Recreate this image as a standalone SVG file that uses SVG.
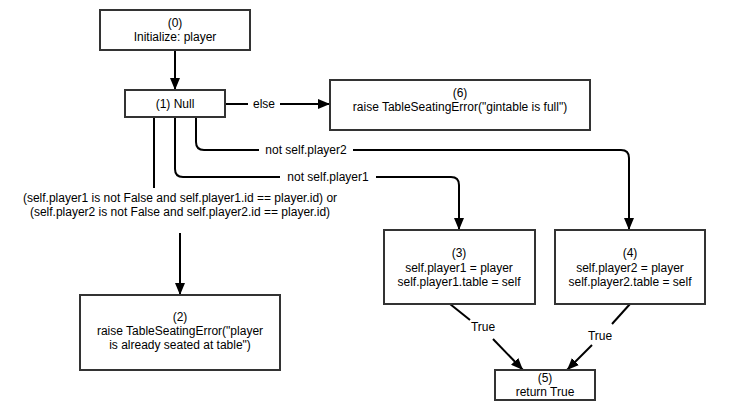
<svg xmlns="http://www.w3.org/2000/svg" width="731" height="420" viewBox="0 0 731 420">
<defs>
<marker id="ah" viewBox="0 0 12 10" refX="12" refY="5" markerWidth="12" markerHeight="10" markerUnits="userSpaceOnUse" orient="auto">
<path d="M0,0 L12,5 L0,10 Z" fill="#000"/>
</marker>
<style>
.box{fill:#fff;stroke:#333;stroke-width:2}
.t{font-family:"Liberation Sans",Arial,sans-serif;font-size:12px;fill:#000;text-anchor:middle}
.c{fill:none;stroke:#000;stroke-width:2}
.a{fill:none;stroke:#000;stroke-width:2;marker-end:url(#ah)}
</style>
</defs>
<rect width="731" height="420" fill="#fff"/>
<g id="connectors">
<path class="a" d="M175,50 V90"/>
<path class="c" d="M225,104 H248"/>
<text class="t" x="264" y="108">else</text>
<path class="a" d="M280,104 H330"/>
<path class="c" d="M196,117 V142 Q196,150 204,150 H259"/>
<text class="t" x="306" y="154">not self.player2</text>
<path class="a" d="M353,150 H621 Q629,150 629,158 V230"/>
<path class="c" d="M175,117 V169 Q175,177 183,177 H280"/>
<text class="t" x="328" y="181">not self.player1</text>
<path class="a" d="M376,177 H451 Q459,177 459,185 V230"/>
<path class="c" d="M154,117 V188"/>
<text class="t" x="180" y="202">(self.player1 is not False and self.player1.id == player.id) or</text>
<text class="t" x="180" y="216">(self.player2 is not False and self.player2.id == player.id)</text>
<path class="a" d="M180,233 V295"/>
<path class="c" d="M450,304 L470,320"/>
<text class="t" x="483" y="331">True</text>
<path class="a" d="M493,339 L523,370"/>
<path class="c" d="M630,304 L612,324"/>
<text class="t" x="600" y="340">True</text>
<path class="a" d="M592,345 L567,370"/>
</g>
<g id="node0">
<rect class="box" x="100" y="10" width="150" height="40"/>
<text class="t" x="175" y="27">(0)</text>
<text class="t" x="175" y="41">Initialize: player</text>
</g>
<g id="node1">
<rect class="box" x="125" y="90" width="100" height="27"/>
<text class="t" x="175" y="108">(1) Null</text>
</g>
<g id="node6">
<rect class="box" x="330" y="80" width="260" height="50"/>
<text class="t" x="460" y="97">(6)</text>
<text class="t" x="460" y="111">raise TableSeatingError("gintable is full")</text>
</g>
<g id="node2">
<rect class="box" x="80" y="295" width="200" height="75"/>
<text class="t" x="180" y="321">(2)</text>
<text class="t" x="180" y="335">raise TableSeatingError("player</text>
<text class="t" x="180" y="349">is already seated at table")</text>
</g>
<g id="node3">
<rect class="box" x="384" y="230" width="151" height="74"/>
<text class="t" x="459" y="257">(3)</text>
<text class="t" x="459" y="272">self.player1 = player</text>
<text class="t" x="459" y="286">self.player1.table = self</text>
</g>
<g id="node4">
<rect class="box" x="555" y="230" width="150" height="74"/>
<text class="t" x="630" y="257">(4)</text>
<text class="t" x="630" y="272">self.player2 = player</text>
<text class="t" x="630" y="286">self.player2.table = self</text>
</g>
<g id="node5">
<rect class="box" x="495" y="370" width="100" height="30"/>
<text class="t" x="545" y="382">(5)</text>
<text class="t" x="545" y="396">return True</text>
</g>
</svg>
